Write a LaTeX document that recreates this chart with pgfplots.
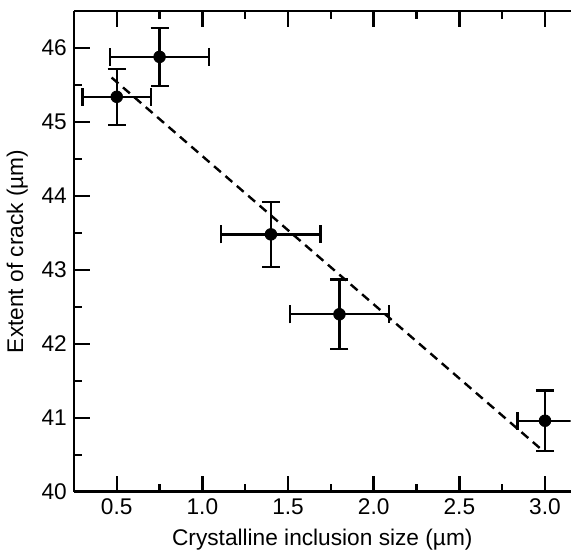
\documentclass[border=0pt]{standalone}
\usepackage{pgfplots}
\pgfplotsset{compat=1.18}
\usepackage{fontspec}
\setmainfont{Liberation Sans}

\begin{document}
\begin{tikzpicture}
\begin{axis}[
  scale only axis,
  width=247.5pt, height=239.5pt,
  xmin=0.25, xmax=3.15,
  ymin=40, ymax=46.5,
  xtick={0.5,1.0,1.5,2.0,2.5,3.0},
  ytick={40,41,42,43,44,45,46},
  minor x tick num=1,
  minor y tick num=1,
  xticklabel style={/pgf/number format/fixed, /pgf/number format/fixed zerofill, /pgf/number format/precision=1},
  /pgf/number format/assume math mode=true,
  tick label style={font=\fontsize{11.3}{13}\selectfont},
  label style={font=\fontsize{11.3}{13}\selectfont},
  xlabel={Crystalline inclusion size (µm)},
  ylabel={Extent of crack (µm)},
  axis x line*=box,
  axis y line*=left,
  axis line style={line width=1.3pt, -},
  tick align=inside,
  major tick length=8pt,
  minor tick length=4pt,
  every tick/.style={line width=1.2pt, black},
  every minor tick/.style={line width=1.2pt, black},
]
\addplot[black, line width=1.2pt, dash pattern=on 4.5pt off 3pt] coordinates {
  (0.47,45.60)
  (2.99,40.55)
};
\addplot[black, only marks, mark=*, mark size=2.9pt,
  error bars/.cd,
    x dir=both, x explicit,
    y dir=both, y explicit,
    error bar style={line width=1.2pt},
    error mark options={rotate=90, mark size=4.5pt, line width=1.2pt},
] coordinates {
  (0.50,45.34) +- (0.20,0.38)
  (0.75,45.88) +- (0.29,0.39)
  (1.40,43.48) +- (0.29,0.44)
  (1.80,42.40) +- (0.29,0.47)
  (3.00,40.96) +- (0.16,0.41)
};
\end{axis}
\path ([yshift=5.5pt]current axis.north west);
\end{tikzpicture}
\end{document}
